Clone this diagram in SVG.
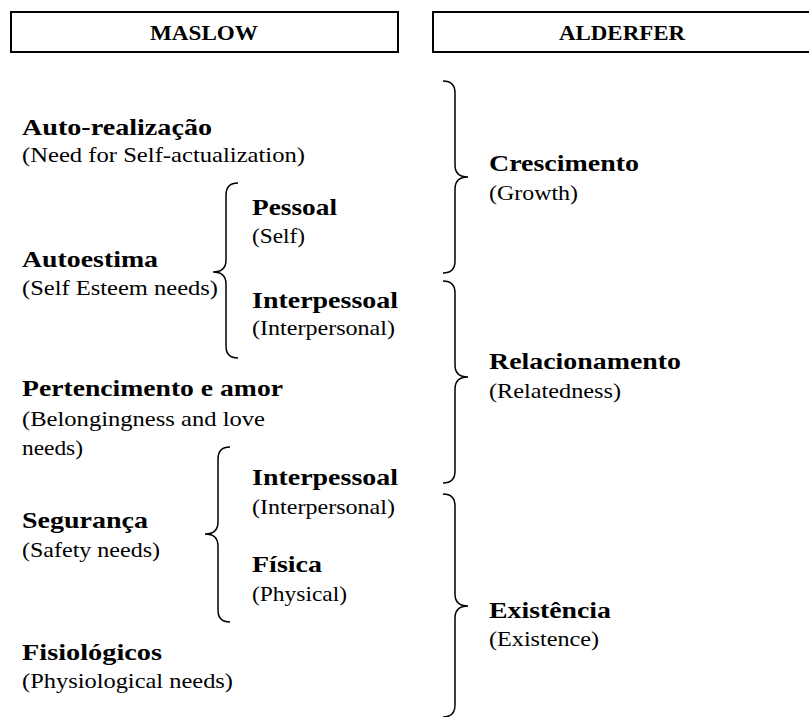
<svg xmlns="http://www.w3.org/2000/svg" width="809" height="717" viewBox="0 0 809 717">
<style>
.b{font-family:"Liberation Serif","Times New Roman",serif;font-weight:bold;font-size:23px;fill:#000}
.r{font-family:"Liberation Serif","Times New Roman",serif;font-size:22px;fill:#000}
.h{font-family:"Liberation Serif","Times New Roman",serif;font-weight:bold;font-size:21px;fill:#000}
.box{fill:#fff;stroke:#000;stroke-width:2}
.br{fill:none;stroke:#000;stroke-width:1.5}
</style>
<rect width="809" height="717" fill="#fff"/>
<g id="maslow-header"><rect class="box" x="11" y="12" width="387" height="40"/><text class="h" x="150" y="40" textLength="108" lengthAdjust="spacingAndGlyphs">MASLOW</text></g>
<g id="alderfer-header"><rect class="box" x="433" y="12" width="380" height="40"/><text class="h" x="559" y="40" textLength="126" lengthAdjust="spacingAndGlyphs">ALDERFER</text></g>
<g id="auto-realizacao"><text class="b" x="22" y="135" textLength="190" lengthAdjust="spacingAndGlyphs">Auto-realização</text><text class="r" x="22" y="162" textLength="283" lengthAdjust="spacingAndGlyphs">(Need for Self-actualization)</text></g>
<g id="autoestima"><text class="b" x="22" y="267" textLength="136" lengthAdjust="spacingAndGlyphs">Autoestima</text><text class="r" x="22" y="295" textLength="196" lengthAdjust="spacingAndGlyphs">(Self Esteem needs)</text></g>
<g id="pessoal"><text class="b" x="252" y="215" textLength="85" lengthAdjust="spacingAndGlyphs">Pessoal</text><text class="r" x="252" y="243" textLength="53" lengthAdjust="spacingAndGlyphs">(Self)</text></g>
<g id="interpessoal1"><text class="b" x="252" y="308" textLength="146" lengthAdjust="spacingAndGlyphs">Interpessoal</text><text class="r" x="252" y="335" textLength="143" lengthAdjust="spacingAndGlyphs">(Interpersonal)</text></g>
<g id="pertencimento"><text class="b" x="22" y="396" textLength="261" lengthAdjust="spacingAndGlyphs">Pertencimento e amor</text><text class="r" x="22" y="426" textLength="243" lengthAdjust="spacingAndGlyphs">(Belongingness and love</text><text class="r" x="22" y="455" textLength="61" lengthAdjust="spacingAndGlyphs">needs)</text></g>
<g id="interpessoal2"><text class="b" x="252" y="485" textLength="146" lengthAdjust="spacingAndGlyphs">Interpessoal</text><text class="r" x="252" y="514" textLength="143" lengthAdjust="spacingAndGlyphs">(Interpersonal)</text></g>
<g id="seguranca"><text class="b" x="22" y="528" textLength="126" lengthAdjust="spacingAndGlyphs">Segurança</text><text class="r" x="22" y="557" textLength="138" lengthAdjust="spacingAndGlyphs">(Safety needs)</text></g>
<g id="fisica"><text class="b" x="252" y="572" textLength="70" lengthAdjust="spacingAndGlyphs">Física</text><text class="r" x="252" y="601" textLength="95" lengthAdjust="spacingAndGlyphs">(Physical)</text></g>
<g id="fisiologicos"><text class="b" x="22" y="660" textLength="140" lengthAdjust="spacingAndGlyphs">Fisiológicos</text><text class="r" x="22" y="688" textLength="211" lengthAdjust="spacingAndGlyphs">(Physiological needs)</text></g>
<g id="crescimento"><text class="b" x="489" y="171" textLength="150" lengthAdjust="spacingAndGlyphs">Crescimento</text><text class="r" x="489" y="200" textLength="89" lengthAdjust="spacingAndGlyphs">(Growth)</text></g>
<g id="relacionamento"><text class="b" x="489" y="369" textLength="192" lengthAdjust="spacingAndGlyphs">Relacionamento</text><text class="r" x="489" y="398" textLength="132" lengthAdjust="spacingAndGlyphs">(Relatedness)</text></g>
<g id="existencia"><text class="b" x="489" y="618" textLength="122" lengthAdjust="spacingAndGlyphs">Existência</text><text class="r" x="489" y="646" textLength="110" lengthAdjust="spacingAndGlyphs">(Existence)</text></g>
<g id="connectors">
<path class="br" d="M238,183 Q226,183 226,195 L226,260 Q226,272 213,272 Q226,272 226,284 L226,346 Q226,358 238,358"/>
<path class="br" d="M230,447 Q218,447 218,459 L218,522 Q218,534 205,534 Q218,534 218,546 L218,610 Q218,622 230,622"/>
<path class="br" d="M443,81 Q455,81 455,93 L455,165 Q455,177 468,177 Q455,177 455,189 L455,261 Q455,273 443,273"/>
<path class="br" d="M443,281 Q455,281 455,293 L455,365 Q455,377 468,377 Q455,377 455,389 L455,471 Q455,483 443,483"/>
<path class="br" d="M443,494 Q455,494 455,506 L455,594 Q455,606 468,606 Q455,606 455,618 L455,705 Q455,717 443,717"/>
</g>
</svg>
